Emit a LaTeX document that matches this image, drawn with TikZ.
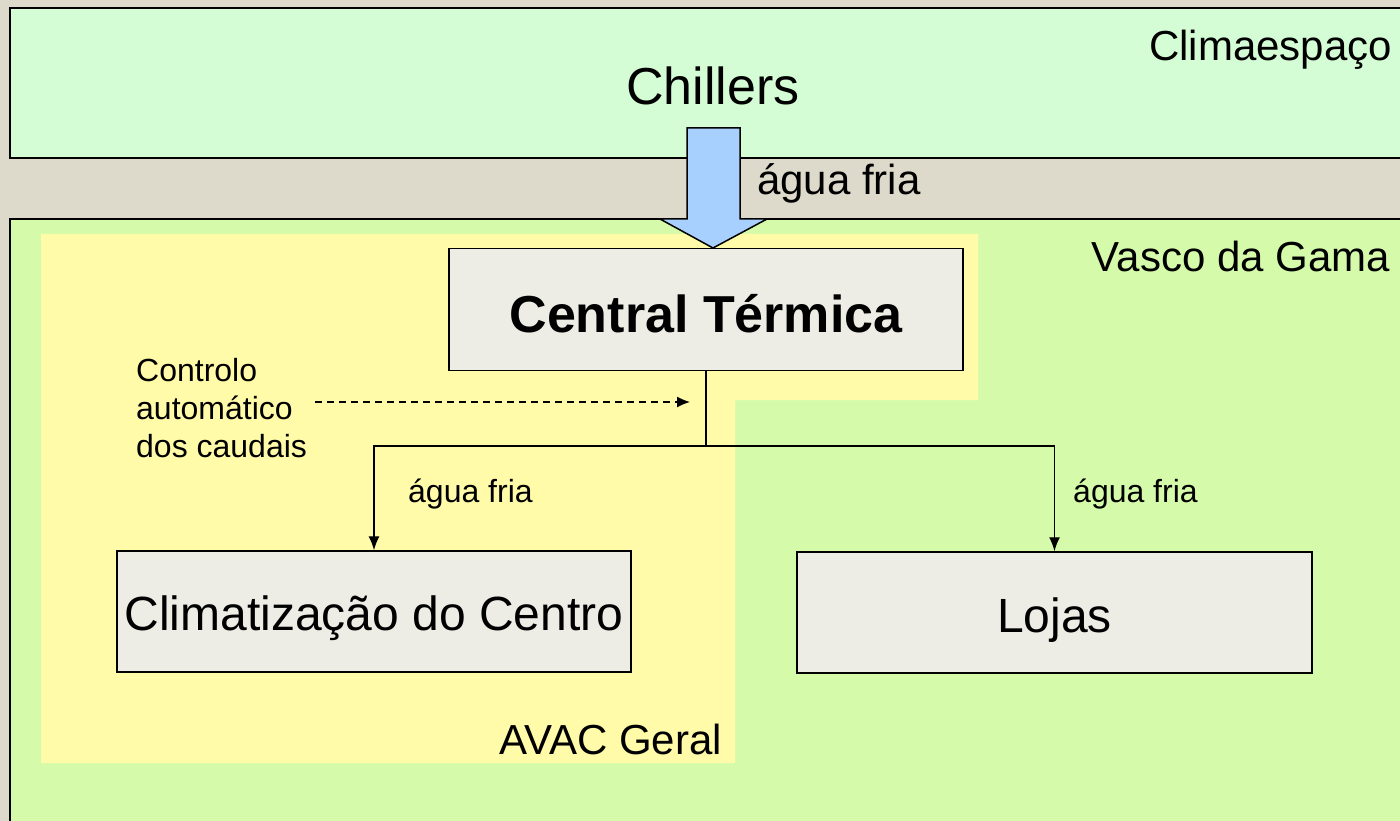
\documentclass[tikz,border=0pt]{standalone}
\usepackage{fontspec}
\setmainfont{Liberation Sans}
\usetikzlibrary{arrows.meta}
\definecolor{bgcol}{HTML}{DDDACB}
\definecolor{climacol}{HTML}{D5FDD5}
\definecolor{vascocol}{HTML}{D5FBAA}
\definecolor{avaccol}{HTML}{FFFBA8}
\definecolor{boxcol}{HTML}{EDEDE5}
\definecolor{arrowblue}{HTML}{A8D0FF}
\begin{document}
\begin{tikzpicture}[x=1pt,y=-1pt,
  frame/.style={draw=black,line width=1.5pt},
  unit/.style={draw=black,line width=1.5pt,fill=boxcol,rectangle,inner sep=0pt,text depth=0pt},
  conn/.style={draw=black,line width=1.4pt},
  tip/.style={-{Latex[length=14pt,width=11pt]}},
  lbl/.style={inner sep=0pt}]
\useasboundingbox (0,0) rectangle (1400,821);
\clip (0,0) rectangle (1400,821);
\fill[bgcol] (0,0) rectangle (1400,821);
% regions
\draw[frame,fill=climacol] (10,8) rectangle (1430,158);
\draw[frame,fill=vascocol] (10,219) rectangle (1430,850);
\fill[avaccol] (41,234) -- (978,234) -- (978,400) -- (735,400) -- (735,763) -- (41,763) -- cycle;
% region labels
\node[lbl,anchor=base east,font=\fontsize{42}{48}\selectfont] (climaespaco) at (1392,61) {Climaespaço};
\node[lbl,anchor=base east,font=\fontsize{42}{48}\selectfont] (vasco) at (1390,271) {Vasco da Gama};
\node[lbl,anchor=base east,font=\fontsize{42}{48}\selectfont] (avac) at (722,754) {AVAC Geral};
\node[lbl,anchor=base,font=\fontsize{52}{60}\selectfont] (chillers) at (713,105) {Chillers};
% boxes
\node[unit,minimum width=514pt,minimum height=122pt,text height=45pt,font=\bfseries\fontsize{52}{60}\selectfont] (central) at (706,309.5) {Central Térmica};
\node[unit,minimum width=514pt,minimum height=121pt,text height=37pt,font=\fontsize{48}{56}\selectfont] (clim) at (374,611.5) {Climatização do Centro};
\node[unit,minimum width=515pt,minimum height=121pt,text height=39pt,font=\fontsize{48}{56}\selectfont] (lojas) at (1054.5,612.5) {Lojas};
% blue arrow
\draw[line width=1.5pt,fill=arrowblue,line join=miter] (687,128) -- (740,128) -- (740,219) -- (767,219) -- (713,248) -- (660,219) -- (687,219) -- cycle;
\node[lbl,anchor=base west,font=\fontsize{42}{48}\selectfont] (aguatop) at (757,195) {água fria};
% distribution
\coordinate (junc) at (central.south |- 0,446);
\draw[conn] (central.south) -- (junc);
\draw[conn,tip] (junc) -| (clim.north);
\draw[conn,tip] (junc) -| (lojas.north);
\node[lbl,anchor=base west,font=\fontsize{32}{38}\selectfont] (aguaL) at (408,502) {água fria};
\node[lbl,anchor=base west,font=\fontsize{32}{38}\selectfont] (aguaR) at (1073,502) {água fria};
% control
\node[lbl,anchor=base west,align=left,font=\fontsize{32}{38}\selectfont] (ctrl) at (136,457) {Controlo\\automático\\dos caudais};
\coordinate (ctrlend) at (690,402);
\draw[line width=1.3pt,dash pattern=on 7pt off 5pt,-{Latex[length=13pt,width=11pt]}] (ctrl.east |- ctrlend) ++(8,0) -- (ctrlend);
\end{tikzpicture}
\end{document}
